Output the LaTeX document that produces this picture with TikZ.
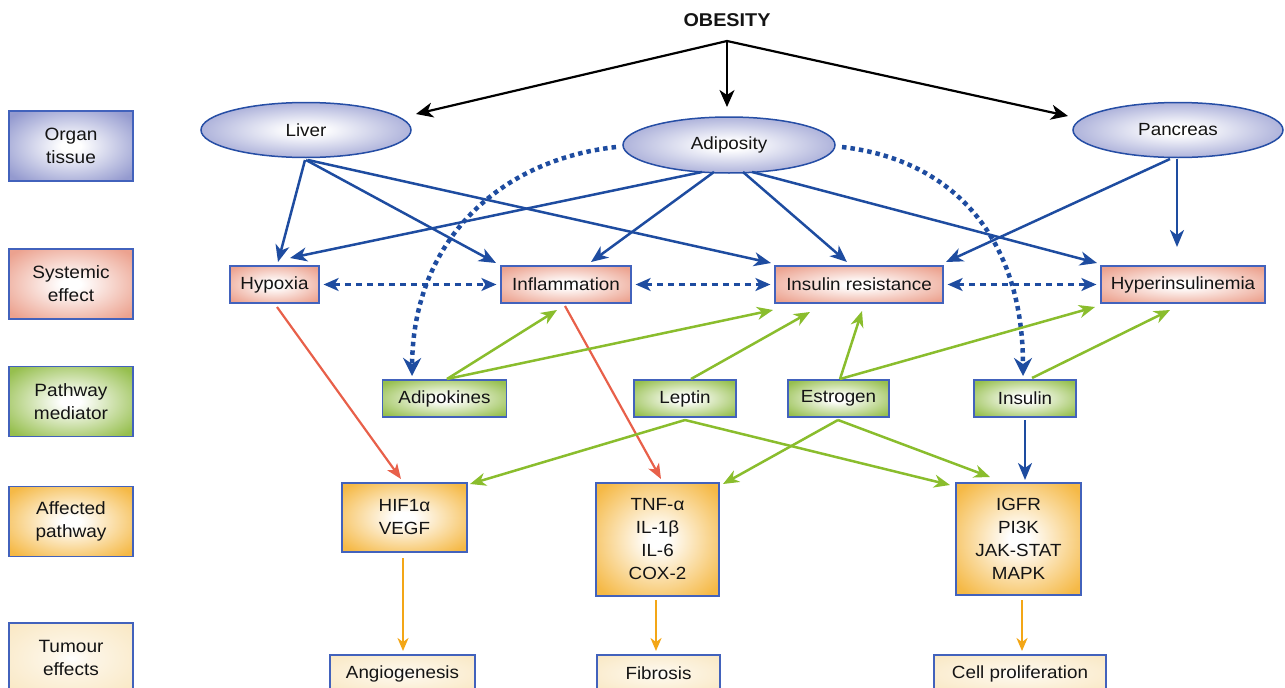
\documentclass[tikz,border=0pt]{standalone}
\usepackage{fontspec}
\setmainfont{Liberation Sans}[FakeStretch=1.07]
\usetikzlibrary{arrows.meta}
\definecolor{orgc}{RGB}{148,154,207}
\definecolor{sysc}{RGB}{236,162,143}
\definecolor{medc}{RGB}{150,191,78}
\definecolor{affc}{RGB}{245,185,70}
\definecolor{tumc}{RGB}{249,231,194}
\definecolor{bordc}{RGB}{66,98,188}
\definecolor{ellc}{RGB}{38,78,165}
\definecolor{blu}{RGB}{30,76,160}
\definecolor{grn}{RGB}{138,189,45}
\definecolor{redc}{RGB}{232,96,74}
\definecolor{orc}{RGB}{243,166,22}
\definecolor{txt}{RGB}{20,20,20}
\pgfdeclareradialshading{orgsh}{\pgfpoint{0bp}{0bp}}{color(0bp)=(white); color(4bp)=(white); color(32bp)=(orgc); color(72bp)=(orgc)}
\pgfdeclareradialshading{syssh}{\pgfpoint{0bp}{0bp}}{color(0bp)=(white); color(4bp)=(white); color(32bp)=(sysc); color(72bp)=(sysc)}
\pgfdeclareradialshading{medsh}{\pgfpoint{0bp}{0bp}}{color(0bp)=(white); color(4bp)=(white); color(32bp)=(medc); color(72bp)=(medc)}
\pgfdeclareradialshading{affsh}{\pgfpoint{0bp}{0bp}}{color(0bp)=(white); color(4bp)=(white); color(32bp)=(affc); color(72bp)=(affc)}
\pgfdeclareradialshading{tumsh}{\pgfpoint{0bp}{0bp}}{color(0bp)=(white); color(8bp)=(white!60!tumc); color(36bp)=(tumc); color(72bp)=(tumc)}
\newcommand\myNodeFont{\fontsize{17.6}{23}\selectfont}
\newcommand\myLegFont{\fontsize{17.8}{23}\selectfont}
\tikzset{
  boxbase/.style={draw=bordc, line width=1.2pt, shade, align=center, inner sep=0pt, text=txt, font=\myNodeFont},
  legbox/.style={boxbase, minimum width=124pt, minimum height=70pt, font=\myLegFont},
  orgbox/.style={legbox, shading=orgsh},
  sysbox/.style={boxbase, shading=syssh, minimum height=37pt},
  medbox/.style={boxbase, shading=medsh, minimum height=37pt},
  affbox/.style={boxbase, shading=affsh},
  tumbox/.style={boxbase, shading=tumsh, minimum height=37pt},
  ellnode/.style={ellipse, draw=ellc, line width=1.5pt, shade, shading=orgsh, text=txt, font=\myNodeFont, inner sep=0pt},
  blk/.style={draw=black, line width=2.2pt, -{Stealth[length=17pt,width=15pt,inset=5pt]}},
  bl/.style={draw=blu, line width=2.5pt, -{Stealth[length=17pt,width=14pt,inset=5pt]}},
  bldash/.style={draw=blu, line width=2.5pt, dash pattern=on 6pt off 5pt, {Stealth[length=15pt,width=13pt,inset=4pt]}-{Stealth[length=15pt,width=13pt,inset=4pt]}, shorten <=4pt, shorten >=4pt},
  bldot/.style={draw=blu, line width=4.5pt, dash pattern=on 4.5pt off 4pt, -{Stealth[length=18pt,width=18pt,inset=6pt]}},
  gr/.style={draw=grn, line width=2.5pt, -{Stealth[length=16pt,width=13pt,inset=5pt]}},
  rd/.style={draw=redc, line width=2.2pt, -{Stealth[length=15pt,width=12pt,inset=4pt]}},
  og/.style={draw=orc, line width=2.2pt, -{Stealth[length=13pt,width=11pt,inset=4pt]}},
}
\usetikzlibrary{shapes.geometric}
\begin{document}
\begin{tikzpicture}[x=1pt,y=-1pt]
\useasboundingbox (0,0) rectangle (1285,688);
\clip (0,0) rectangle (1285,688);
% legend
\node[orgbox] (l1) at (71,146) {Organ\\tissue};
\node[legbox, shading=syssh] (l2) at (71,284) {Systemic\\effect};
\node[legbox, shading=medsh] (l3) at (71,401.5) {Pathway\\mediator};
\node[legbox, shading=affsh] (l4) at (71,521.5) {Affected\\pathway};
\node[legbox, shading=tumsh] (l5) at (71,658) {Tumour\\effects};
% title
\node[font=\fontsize{18.5}{22}\selectfont\bfseries, text=txt] (ob) at (727,20) {OBESITY};
\coordinate (obs) at (727,41);
% organs
\node[ellnode, minimum width=210pt, minimum height=55pt] (liver) at (306,130) {Liver};
\node[ellnode, minimum width=212pt, minimum height=56pt] (adip) at (729,145) {Adiposity};
\node[ellnode, minimum width=210pt, minimum height=55pt] (panc) at (1178,130) {Pancreas};
% systemic
\node[sysbox, minimum width=89pt] (hyp) at (274.5,284.5) {Hypoxia};
\node[sysbox, minimum width=130pt] (infl) at (566,284.5) {Inflammation};
\node[sysbox, minimum width=168pt] (insr) at (859,284.5) {Insulin resistance};
\node[sysbox, minimum width=164pt] (hyper) at (1183,284.5) {Hyperinsulinemia};
% mediators
\node[medbox, minimum width=124pt] (adk) at (444.5,398.5) {Adipokines};
\node[medbox, minimum width=102pt] (lep) at (685,398.5) {Leptin};
\node[medbox, minimum width=101pt] (est) at (838.5,398.5) {Estrogen};
\node[medbox, minimum width=102pt] (ins) at (1025,398.5) {Insulin};
% affected pathways
\node[affbox, minimum width=125pt, minimum height=69pt] (hif) at (404.5,517.5) {HIF1α\\VEGF};
\node[affbox, minimum width=123pt, minimum height=113pt] (tnf) at (657.5,539.5) {TNF-α\\IL-1β\\IL-6\\COX-2};
\node[affbox, minimum width=125pt, minimum height=112pt] (igf) at (1018.5,539) {IGFR\\PI3K\\JAK-STAT\\MAPK};
% tumour effects
\node[tumbox, minimum width=145pt] (ang) at (402.5,673.5) {Angiogenesis};
\node[tumbox, minimum width=123pt] (fib) at (658.5,673.5) {Fibrosis};
\node[tumbox, minimum width=172pt] (cel) at (1020,673.5) {Cell proliferation};
% obesity arrows
\draw[blk] (obs) -- ([shift={(110,-16)}]liver.center);
\draw[blk] (obs) -- ([shift={(-2,-38)}]adip.center);
\draw[blk] (obs) -- ([shift={(-110,-14)}]panc.center);
% organ -> systemic
\draw[bl] ([shift={(-1,30)}]liver.center) -- ([shift={(3.5,-22.5)}]hyp.center);
\draw[bl] ([shift={(0,30)}]liver.center) -- ([shift={(-70,-21.5)}]infl.center);
\draw[bl] ([shift={(2,30)}]liver.center) -- ([shift={(-88,-21.5)}]insr.center);
\draw[bl] ([shift={(-27,27)}]adip.center) -- ([shift={(15.5,-26.5)}]hyp.center);
\draw[bl] ([shift={(-15,27)}]adip.center) -- ([shift={(25,-22.5)}]infl.center);
\draw[bl] ([shift={(14,27)}]adip.center) -- ([shift={(-12,-22.5)}]insr.center);
\draw[bl] ([shift={(23,27)}]adip.center) -- ([shift={(-86,-21.5)}]hyper.center);
\draw[bl] ([shift={(-8,29)}]panc.center) -- ([shift={(87,-22.5)}]insr.center);
\draw[bl] ([shift={(-1,29)}]panc.center) -- ([shift={(-6,-37.5)}]hyper.center);
% dashed double arrows
\draw[bldash] (hyp.east) -- (infl.west);
\draw[bldash] (infl.east) -- (insr.west);
\draw[bldash] (insr.east) -- (hyper.west);
% dotted arcs
\draw[bldot] ([shift={(-113,2)}]adip.center) .. controls (500,160) and (413,240) .. ([shift={(-32.5,-22.5)}]adk.center);
\draw[bldot] ([shift={(113,2)}]adip.center) .. controls (955,160) and (1023,240) .. ([shift={(-2,-22.5)}]ins.center);
% red
\draw[rd] ([shift={(2.5,22.5)}]hyp.center) -- ([shift={(-3.5,-38.5)}]hif.center);
\draw[rd] ([shift={(-1,21.5)}]infl.center) -- ([shift={(3.5,-60.5)}]tnf.center);
% green up
\draw[gr] ([shift={(2.5,-19.5)}]adk.center) -- ([shift={(-9,25.5)}]infl.center);
\draw[gr] ([shift={(2.5,-19.5)}]adk.center) -- ([shift={(-86,25.5)}]insr.center);
\draw[gr] ([shift={(6,-19.5)}]lep.center) -- ([shift={(-49,27.5)}]insr.center);
\draw[gr] ([shift={(1.5,-19.5)}]est.center) -- ([shift={(3,26.5)}]insr.center);
\draw[gr] ([shift={(1.5,-19.5)}]est.center) -- ([shift={(-88,22.5)}]hyper.center);
\draw[gr] ([shift={(7,-20.5)}]ins.center) -- ([shift={(-13,25.5)}]hyper.center);
% green down
\draw[gr] ([shift={(0,21.5)}]lep.center) -- ([shift={(65.5,-33.5)}]hif.center);
\draw[gr] ([shift={(0,21.5)}]lep.center) -- ([shift={(-68.5,-54)}]igf.center);
\draw[gr] ([shift={(-0.5,21.5)}]est.center) -- ([shift={(65.5,-55.5)}]tnf.center);
\draw[gr] ([shift={(-0.5,21.5)}]est.center) -- ([shift={(-28.5,-62)}]igf.center);
% insulin -> igfr
\draw[bl] ([shift={(0,21.5)}]ins.center) -- ([shift={(6.5,-59)}]igf.center);
% orange
\draw[og] ([shift={(-1.5,40.5)}]hif.center) -- ([shift={(0.5,-22.5)}]ang.center);
\draw[og] ([shift={(-1.5,60.5)}]tnf.center) -- ([shift={(-2.5,-22.5)}]fib.center);
\draw[og] ([shift={(3.5,61)}]igf.center) -- ([shift={(2,-22.5)}]cel.center);
\end{tikzpicture}
\end{document}
